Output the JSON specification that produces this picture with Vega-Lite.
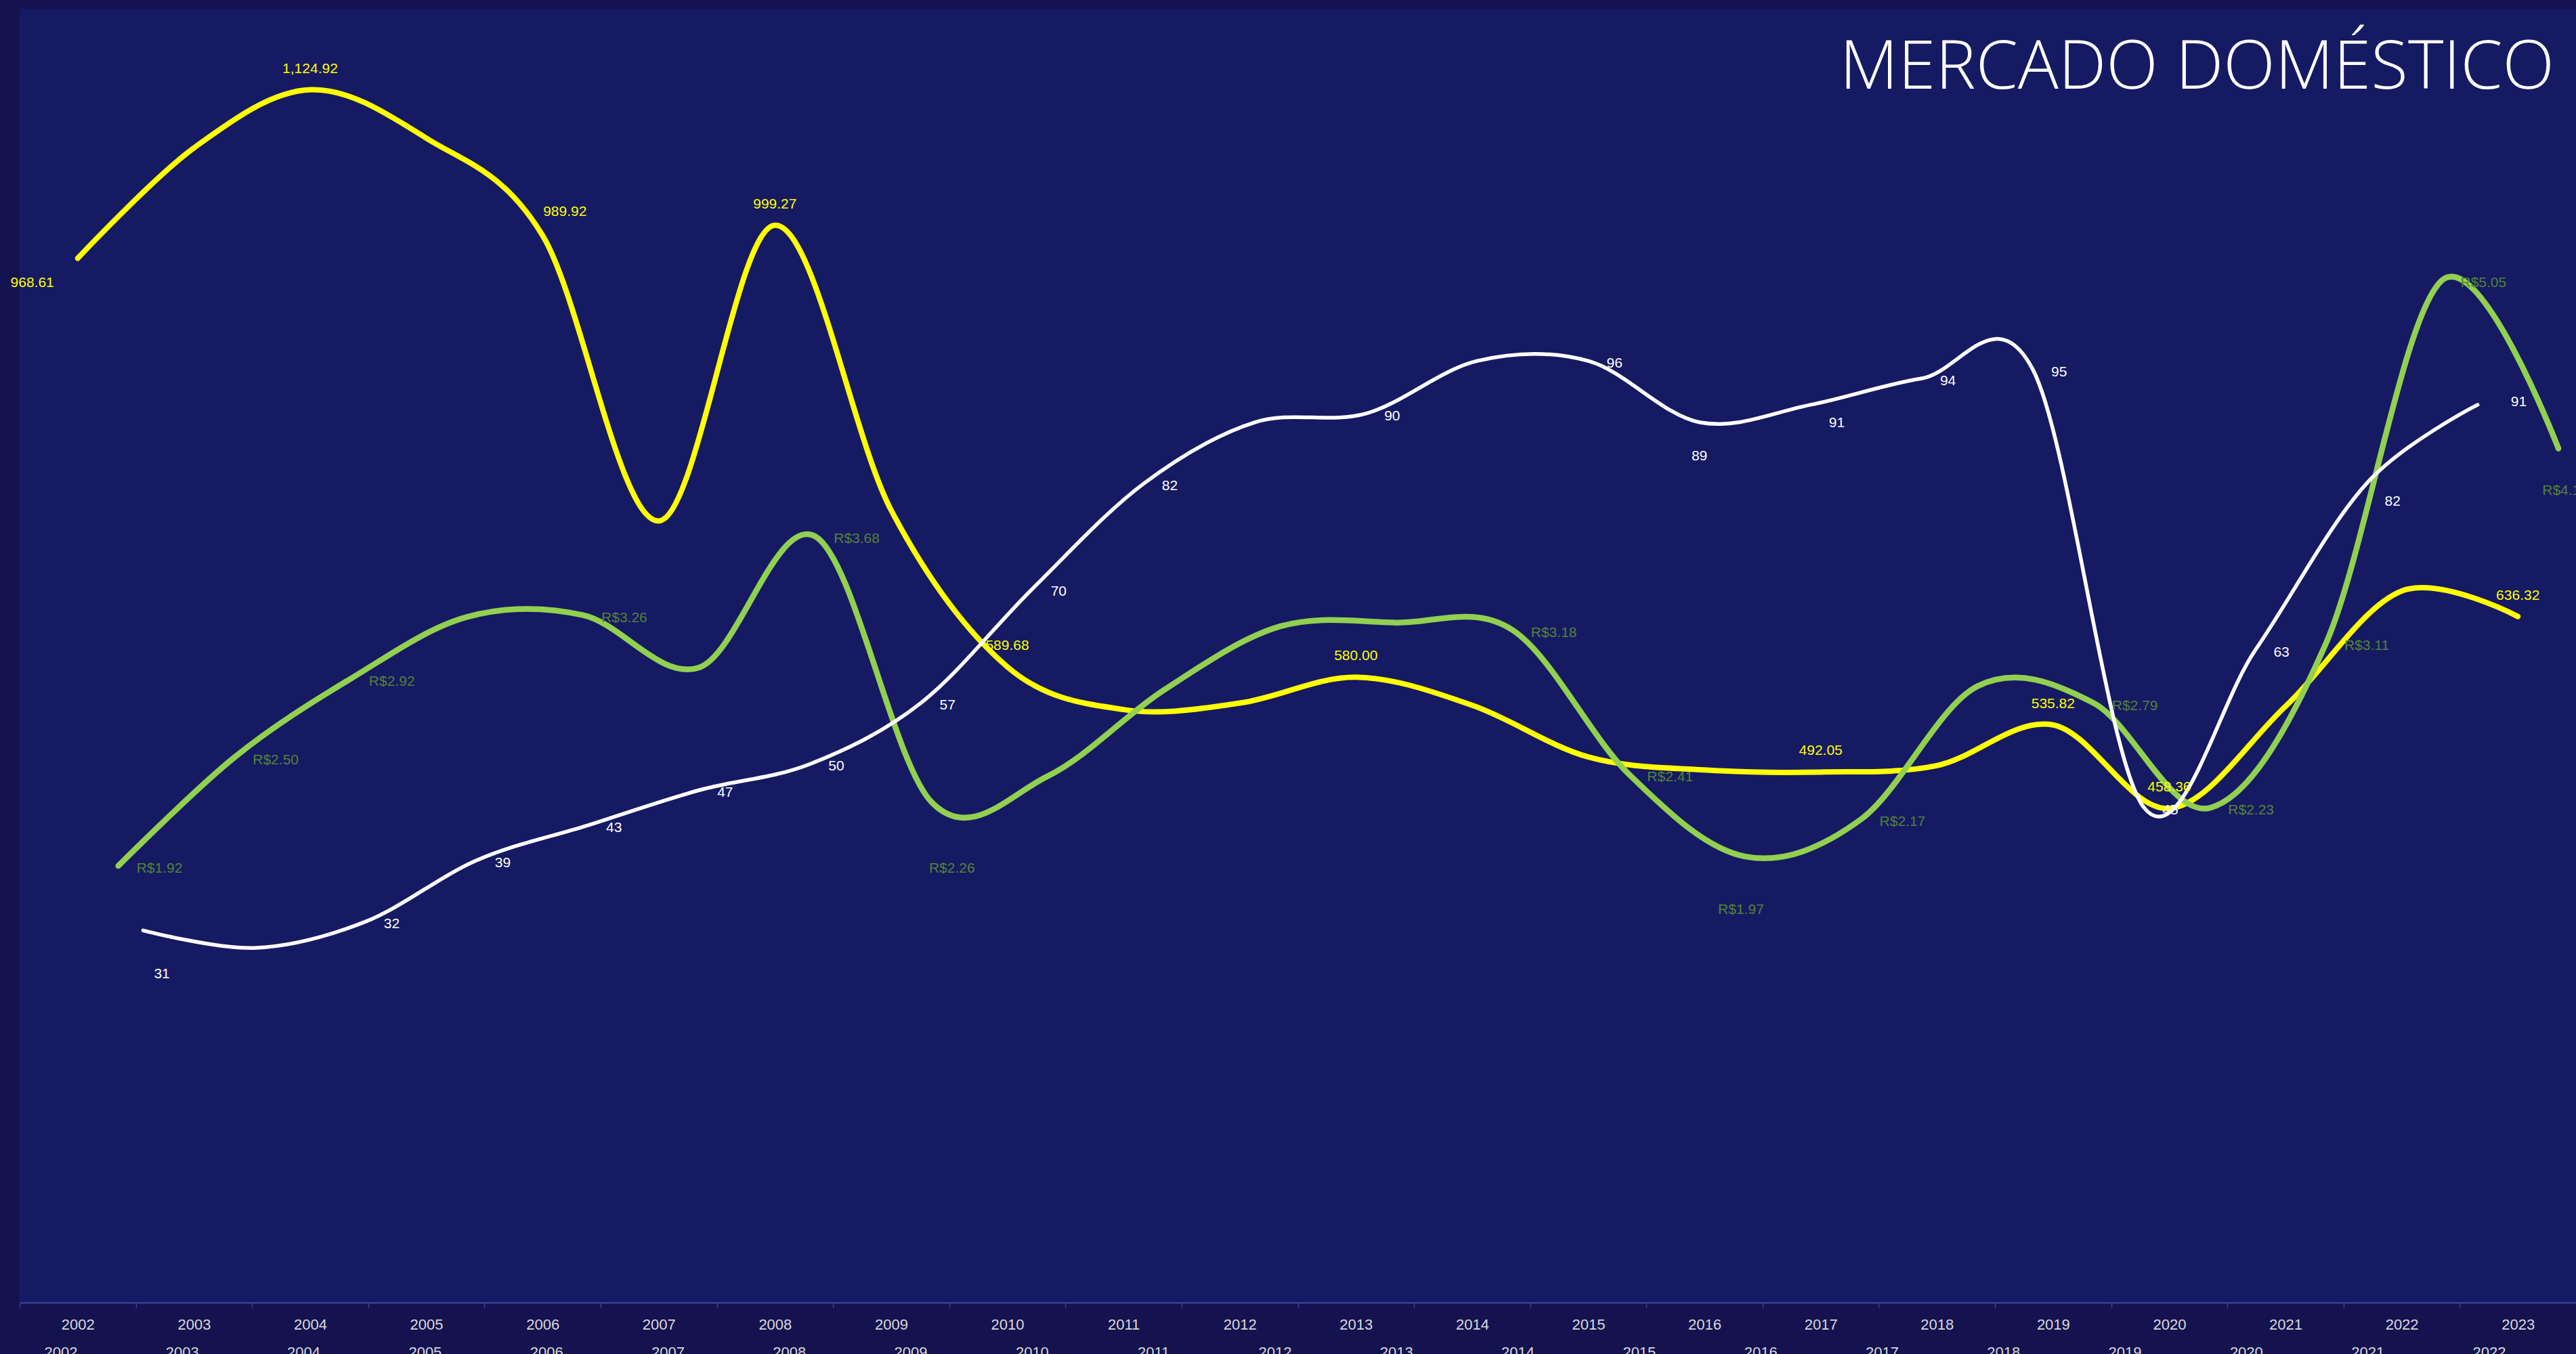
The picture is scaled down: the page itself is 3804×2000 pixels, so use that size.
{
  "$schema": "https://vega.github.io/schema/vega-lite/v6.json",
  "width": 3775,
  "height": 1911,
  "autosize": {"type": "none"},
  "padding": {"left": 29, "top": 13, "right": 0, "bottom": 76},
  "background": "#141350",
  "config": {
    "view": {"fill": "#161A63", "stroke": null},
    "font": "Liberation Sans",
    "locale": {"number": {"decimal": ".", "thousands": ",", "grouping": [3], "currency": ["R$", ""]}}
  },
  "title": {
    "text": "MERCADO DOMÉSTICO",
    "anchor": "end",
    "orient": "top",
    "frame": "group",
    "offset": -116,
    "baseline": "alphabetic",
    "dx": -32,
    "dy": 102,
    "font": "Open Sans",
    "fontWeight": 300,
    "fontSize": 100,
    "color": "#FFFFFF"
  },
  "datasets": {
    "preco": [
      {"ano": 2002, "preco": 968.61}, {"ano": 2003, "preco": 1071}, {"ano": 2004, "preco": 1124.92},
      {"ano": 2005, "preco": 1080}, {"ano": 2006, "preco": 989.92}, {"ano": 2007, "preco": 725},
      {"ano": 2008, "preco": 999.27}, {"ano": 2009, "preco": 735}, {"ano": 2010, "preco": 589.68},
      {"ano": 2011, "preco": 550}, {"ano": 2012, "preco": 556}, {"ano": 2013, "preco": 580.00},
      {"ano": 2014, "preco": 554}, {"ano": 2015, "preco": 506}, {"ano": 2016, "preco": 494},
      {"ano": 2017, "preco": 492.05}, {"ano": 2018, "preco": 498}, {"ano": 2019, "preco": 535.82},
      {"ano": 2020, "preco": 458.36}, {"ano": 2021, "preco": 553}, {"ano": 2022, "preco": 660},
      {"ano": 2023, "preco": 636.32}
    ],
    "cambio": [
      {"ano": 2002, "cambio": 1.92}, {"ano": 2003, "cambio": 2.50}, {"ano": 2004, "cambio": 2.92},
      {"ano": 2005, "cambio": 3.25}, {"ano": 2006, "cambio": 3.26}, {"ano": 2007, "cambio": 2.98},
      {"ano": 2008, "cambio": 3.68}, {"ano": 2009, "cambio": 2.26}, {"ano": 2010, "cambio": 2.40},
      {"ano": 2011, "cambio": 2.86}, {"ano": 2012, "cambio": 3.20}, {"ano": 2013, "cambio": 3.22},
      {"ano": 2014, "cambio": 3.18}, {"ano": 2015, "cambio": 2.41}, {"ano": 2016, "cambio": 1.97},
      {"ano": 2017, "cambio": 2.17}, {"ano": 2018, "cambio": 2.88}, {"ano": 2019, "cambio": 2.79},
      {"ano": 2020, "cambio": 2.23}, {"ano": 2021, "cambio": 3.11}, {"ano": 2022, "cambio": 5.05},
      {"ano": 2023, "cambio": 4.15}
    ],
    "indice": [
      {"ano": 2002, "indice": 31}, {"ano": 2003, "indice": 29}, {"ano": 2004, "indice": 32},
      {"ano": 2005, "indice": 39}, {"ano": 2006, "indice": 43}, {"ano": 2007, "indice": 47},
      {"ano": 2008, "indice": 50}, {"ano": 2009, "indice": 57}, {"ano": 2010, "indice": 70},
      {"ano": 2011, "indice": 82}, {"ano": 2012, "indice": 89}, {"ano": 2013, "indice": 90},
      {"ano": 2014, "indice": 96}, {"ano": 2015, "indice": 96}, {"ano": 2016, "indice": 89},
      {"ano": 2017, "indice": 91}, {"ano": 2018, "indice": 94}, {"ano": 2019, "indice": 95},
      {"ano": 2020, "indice": 45}, {"ano": 2021, "indice": 63}, {"ano": 2022, "indice": 82},
      {"ano": 2023, "indice": 91}
    ]
  },
  "layer": [
    {
      "data": {"name": "preco"},
      "mark": {"type": "point", "opacity": 0},
      "encoding": {
        "x": {"field": "ano", "type": "quantitative", "scale": {"domain": [2001.6626, 2022.717], "nice": false, "zero": false},
          "axis": {"orient": "bottom", "values": [2002,2003,2004,2005,2006,2007,2008,2009,2010,2011,2012,2013,2014,2015,2016,2017,2018,2019,2020,2021,2022],
            "format": "d", "ticks": false, "tickSize": 0, "domain": false, "grid": false, "title": null,
            "labelPadding": 63, "labelColor": "#D9D9D9", "labelFont": "Liberation Sans", "labelFontSize": 22,
            "labelOverlap": false, "labelBound": false, "labelFlush": false}},
        "y": {"field": "preco", "type": "quantitative", "scale": {"domain": [0, 1200], "nice": false, "zero": false}, "axis": null}
      }
    },
    {
      "data": {"name": "preco"},
      "mark": {"type": "line", "color": "#FFFF00", "strokeWidth": 8, "interpolate": "cardinal", "tension": 0, "strokeCap": "round"},
      "encoding": {
        "x": {"field": "ano", "type": "quantitative", "scale": {"domain": [2001.5, 2023.5], "nice": false, "zero": false},
          "axis": {"orient": "bottom", "values": [2001.5,2002.5,2003.5,2004.5,2005.5,2006.5,2007.5,2008.5,2009.5,2010.5,2011.5,2012.5,2013.5,2014.5,2015.5,2016.5,2017.5,2018.5,2019.5,2020.5,2021.5,2022.5],
            "labelExpr": "format(datum.value + 0.5, 'd')", "labelOffset": 85.8, "grid": false, "title": null,
            "labelPadding": 14, "labelColor": "#D9D9D9", "labelFont": "Liberation Sans", "labelFontSize": 22,
            "labelOverlap": false, "labelBound": false, "labelFlush": false,
            "tickSize": 8, "tickColor": "#3B3F8F", "tickWidth": 1.5, "domainColor": "#3B3F8F", "domainWidth": 2.5}},
        "y": {"field": "preco", "type": "quantitative", "scale": {"domain": [0, 1200], "nice": false, "zero": false}, "axis": null}
      }
    },
    {
      "data": {"name": "cambio"},
      "mark": {"type": "line", "color": "#92D050", "strokeWidth": 8.5, "interpolate": "cardinal", "tension": 0, "strokeCap": "round"},
      "encoding": {
        "x": {"field": "ano", "type": "quantitative", "scale": {"domain": [2001.151, 2023.151], "nice": false, "zero": false}, "axis": null},
        "y": {"field": "cambio", "type": "quantitative", "scale": {"domain": [-0.4135, 6.5], "nice": false, "zero": false}, "axis": null}
      }
    },
    {
      "data": {"name": "indice"},
      "mark": {"type": "line", "color": "#FFFFFF", "strokeWidth": 5.5, "interpolate": "cardinal", "tension": 0, "strokeCap": "round"},
      "encoding": {
        "x": {"field": "ano", "type": "quantitative", "scale": {"domain": [2000.889, 2023.885], "nice": false, "zero": false}, "axis": null},
        "y": {"field": "indice", "type": "quantitative", "scale": {"domain": [-11.48, 136.2], "nice": false, "zero": false}, "axis": null}
      }
    },
    {
      "data": {"name": "preco"},
      "transform": [{"filter": {"field": "ano", "oneOf": [2004, 2008, 2010, 2013, 2017, 2019, 2020, 2023]}}],
      "mark": {"type": "text", "color": "#FFFF00", "font": "Liberation Sans", "fontSize": 21, "align": "center", "baseline": "middle", "dy": -31},
      "encoding": {
        "x": {"field": "ano", "type": "quantitative", "scale": {"domain": [2001.5, 2023.5], "nice": false, "zero": false}, "axis": null},
        "y": {"field": "preco", "type": "quantitative", "scale": {"domain": [0, 1200], "nice": false, "zero": false}, "axis": null},
        "text": {"field": "preco", "type": "quantitative", "format": ",.2f"}
      }
    },
    {
      "data": {"name": "preco"},
      "transform": [{"filter": {"field": "ano", "oneOf": [2002]}}],
      "mark": {"type": "text", "color": "#FFFF00", "font": "Liberation Sans", "fontSize": 21, "align": "right", "baseline": "middle", "dx": -35, "dy": 37},
      "encoding": {
        "x": {"field": "ano", "type": "quantitative", "scale": {"domain": [2001.5, 2023.5], "nice": false, "zero": false}, "axis": null},
        "y": {"field": "preco", "type": "quantitative", "scale": {"domain": [0, 1200], "nice": false, "zero": false}, "axis": null},
        "text": {"field": "preco", "type": "quantitative", "format": ",.2f"}
      }
    },
    {
      "data": {"name": "preco"},
      "transform": [{"filter": {"field": "ano", "oneOf": [2006]}}],
      "mark": {"type": "text", "color": "#FFFF00", "font": "Liberation Sans", "fontSize": 21, "align": "left", "baseline": "middle", "dx": 1, "dy": -35},
      "encoding": {
        "x": {"field": "ano", "type": "quantitative", "scale": {"domain": [2001.5, 2023.5], "nice": false, "zero": false}, "axis": null},
        "y": {"field": "preco", "type": "quantitative", "scale": {"domain": [0, 1200], "nice": false, "zero": false}, "axis": null},
        "text": {"field": "preco", "type": "quantitative", "format": ",.2f"}
      }
    },
    {
      "data": {"name": "cambio"},
      "transform": [{"filter": {"field": "ano", "oneOf": [2002, 2003, 2004, 2006, 2008, 2014, 2015, 2017, 2019, 2020, 2021, 2022]}}],
      "mark": {"type": "text", "color": "#548235", "font": "Liberation Sans", "fontSize": 21, "align": "left", "baseline": "middle", "dx": 27, "dy": 4},
      "encoding": {
        "x": {"field": "ano", "type": "quantitative", "scale": {"domain": [2001.151, 2023.151], "nice": false, "zero": false}, "axis": null},
        "y": {"field": "cambio", "type": "quantitative", "scale": {"domain": [-0.4135, 6.5], "nice": false, "zero": false}, "axis": null},
        "text": {"field": "cambio", "type": "quantitative", "format": "$.2f"}
      }
    },
    {
      "data": {"name": "cambio"},
      "transform": [{"filter": {"field": "ano", "oneOf": [2009]}}],
      "mark": {"type": "text", "color": "#548235", "font": "Liberation Sans", "fontSize": 21, "align": "center", "baseline": "middle", "dx": 30, "dy": 98},
      "encoding": {
        "x": {"field": "ano", "type": "quantitative", "scale": {"domain": [2001.151, 2023.151], "nice": false, "zero": false}, "axis": null},
        "y": {"field": "cambio", "type": "quantitative", "scale": {"domain": [-0.4135, 6.5], "nice": false, "zero": false}, "axis": null},
        "text": {"field": "cambio", "type": "quantitative", "format": "$.2f"}
      }
    },
    {
      "data": {"name": "cambio"},
      "transform": [{"filter": {"field": "ano", "oneOf": [2016]}}],
      "mark": {"type": "text", "color": "#548235", "font": "Liberation Sans", "fontSize": 21, "align": "center", "baseline": "middle", "dx": -6, "dy": 79},
      "encoding": {
        "x": {"field": "ano", "type": "quantitative", "scale": {"domain": [2001.151, 2023.151], "nice": false, "zero": false}, "axis": null},
        "y": {"field": "cambio", "type": "quantitative", "scale": {"domain": [-0.4135, 6.5], "nice": false, "zero": false}, "axis": null},
        "text": {"field": "cambio", "type": "quantitative", "format": "$.2f"}
      }
    },
    {
      "data": {"name": "cambio"},
      "transform": [{"filter": {"field": "ano", "oneOf": [2023]}}],
      "mark": {"type": "text", "color": "#548235", "font": "Liberation Sans", "fontSize": 21, "align": "center", "baseline": "middle", "dx": 10, "dy": 62},
      "encoding": {
        "x": {"field": "ano", "type": "quantitative", "scale": {"domain": [2001.151, 2023.151], "nice": false, "zero": false}, "axis": null},
        "y": {"field": "cambio", "type": "quantitative", "scale": {"domain": [-0.4135, 6.5], "nice": false, "zero": false}, "axis": null},
        "text": {"field": "cambio", "type": "quantitative", "format": "$.2f"}
      }
    },
    {
      "data": {"name": "indice"},
      "transform": [{"filter": {"field": "ano", "oneOf": [2004, 2005, 2006, 2007, 2008, 2009, 2010, 2011, 2013, 2015, 2018, 2019, 2020, 2021]}}],
      "mark": {"type": "text", "color": "#FFFFFF", "font": "Liberation Sans", "fontSize": 21, "align": "left", "baseline": "middle", "dx": 27, "dy": 4},
      "encoding": {
        "x": {"field": "ano", "type": "quantitative", "scale": {"domain": [2000.889, 2023.885], "nice": false, "zero": false}, "axis": null},
        "y": {"field": "indice", "type": "quantitative", "scale": {"domain": [-11.48, 136.2], "nice": false, "zero": false}, "axis": null},
        "text": {"field": "indice", "type": "quantitative", "format": "d"}
      }
    },
    {
      "data": {"name": "indice"},
      "transform": [{"filter": {"field": "ano", "oneOf": [2017, 2022]}}],
      "mark": {"type": "text", "color": "#FFFFFF", "font": "Liberation Sans", "fontSize": 21, "align": "left", "baseline": "middle", "dx": 27, "dy": 27},
      "encoding": {
        "x": {"field": "ano", "type": "quantitative", "scale": {"domain": [2000.889, 2023.885], "nice": false, "zero": false}, "axis": null},
        "y": {"field": "indice", "type": "quantitative", "scale": {"domain": [-11.48, 136.2], "nice": false, "zero": false}, "axis": null},
        "text": {"field": "indice", "type": "quantitative", "format": "d"}
      }
    },
    {
      "data": {"name": "indice"},
      "transform": [{"filter": {"field": "ano", "oneOf": [2016]}}],
      "mark": {"type": "text", "color": "#FFFFFF", "font": "Liberation Sans", "fontSize": 21, "align": "center", "baseline": "middle", "dy": 50},
      "encoding": {
        "x": {"field": "ano", "type": "quantitative", "scale": {"domain": [2000.889, 2023.885], "nice": false, "zero": false}, "axis": null},
        "y": {"field": "indice", "type": "quantitative", "scale": {"domain": [-11.48, 136.2], "nice": false, "zero": false}, "axis": null},
        "text": {"field": "indice", "type": "quantitative", "format": "d"}
      }
    },
    {
      "data": {"name": "indice"},
      "transform": [{"filter": {"field": "ano", "oneOf": [2002]}}],
      "mark": {"type": "text", "color": "#FFFFFF", "font": "Liberation Sans", "fontSize": 21, "align": "left", "baseline": "middle", "dx": 16, "dy": 65},
      "encoding": {
        "x": {"field": "ano", "type": "quantitative", "scale": {"domain": [2000.889, 2023.885], "nice": false, "zero": false}, "axis": null},
        "y": {"field": "indice", "type": "quantitative", "scale": {"domain": [-11.48, 136.2], "nice": false, "zero": false}, "axis": null},
        "text": {"field": "indice", "type": "quantitative", "format": "d"}
      }
    },
    {
      "data": {"name": "indice"},
      "transform": [{"filter": {"field": "ano", "oneOf": [2023]}}],
      "mark": {"type": "text", "color": "#FFFFFF", "font": "Liberation Sans", "fontSize": 21, "align": "left", "baseline": "middle", "dx": 49, "dy": -4},
      "encoding": {
        "x": {"field": "ano", "type": "quantitative", "scale": {"domain": [2000.889, 2023.885], "nice": false, "zero": false}, "axis": null},
        "y": {"field": "indice", "type": "quantitative", "scale": {"domain": [-11.48, 136.2], "nice": false, "zero": false}, "axis": null},
        "text": {"field": "indice", "type": "quantitative", "format": "d"}
      }
    }
  ],
  "resolve": {"scale": {"x": "independent", "y": "independent"}, "axis": {"x": "independent", "y": "independent"}}
}
